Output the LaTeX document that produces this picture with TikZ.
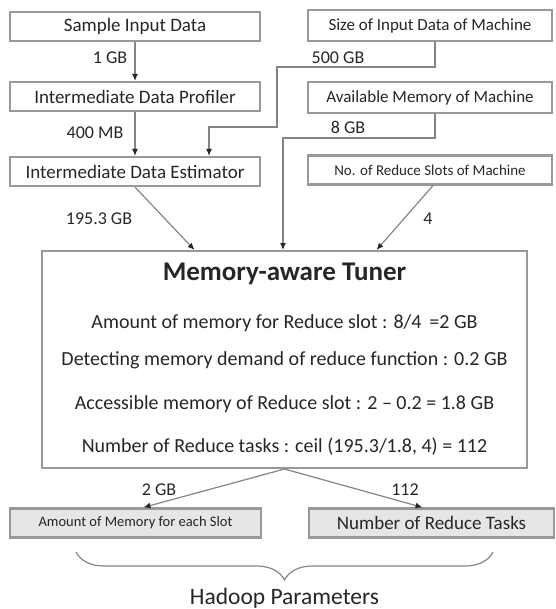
\documentclass[tikz,border=0pt]{standalone}
\usepackage{fontspec}
\setmainfont{Carlito}
\usepackage{tikz}
\usepackage{xcolor}
\usetikzlibrary{positioning,decorations.pathreplacing,arrows.meta}

\definecolor{boxline}{HTML}{999999}
\definecolor{conn}{HTML}{858585}
\definecolor{txt}{HTML}{262626}
\definecolor{paramfill}{HTML}{E6E6E6}

\begin{document}
\begin{tikzpicture}[x=1pt, y=-1pt, >={Latex[length=7pt,width=6pt,color=txt]}, color=txt]
    \tikzstyle{block}=[rectangle, draw=boxline, line width=2.2pt, align=center, minimum height=29pt, inner sep=0pt, font=\fontsize{19}{21}\selectfont]
    \tikzstyle{param}=[block, fill=paramfill]
    \tikzstyle{lbl}=[font=\fontsize{18}{20}\selectfont]
    \tikzstyle{row}=[font=\fontsize{20}{22}\selectfont]
    \tikzstyle{line}=[draw=conn, line width=1.2pt]
    \useasboundingbox (0,0) rectangle (555,609);

    % left column
    \node[block, minimum width=250pt] (sample) at (135,26.5) {Sample Input Data};
    \node[block, minimum width=250pt] (profiler) at (135,96.5) {Intermediate Data Profiler};
    \node[block, minimum width=250pt] (estimator) at (135,171.5) {Intermediate Data Estimator};

    % right column
    \node[block, minimum width=244pt, minimum height=31pt, font=\fontsize{17}{19}\selectfont] (sizein) at (430,25.5) {Size of Input Data of Machine};
    \node[block, minimum width=244pt, minimum height=31pt, font=\fontsize{17}{19}\selectfont] (availmem) at (430,97.5) {Available Memory of Machine};
    \node[block, minimum width=244pt, font=\fontsize{15}{17}\selectfont] (slots) at (430,170) {No. of Reduce Slots of Machine};

    % tuner
    \node[rectangle, draw=boxline, line width=2pt, minimum width=485pt, minimum height=217pt] (tuner) at (284.5,359.5) {};
    \node[font=\bfseries\fontsize{27}{29}\selectfont] (title) at (284.5,274) {Memory-aware Tuner};
    \node[row] (rowa) at (284.5,323) {Amount of memory for Reduce slot : 8/4 \,=2 GB};
    \node[row] (rowb) at (284.5,360) {Detecting memory demand of reduce function : 0.2 GB};
    \node[row] (rowc) at (284.5,404) {Accessible memory of Reduce slot : 2 -- 0.2 = 1.8 GB};
    \node[row] (rowd) at (284.5,447) {Number of Reduce tasks : ceil (195.3/1.8, 4) = 112};

    % hadoop parameters
    \node[param, minimum width=251pt, font=\fontsize{14.5}{16}\selectfont] (memslot) at (135.5,523) {Amount of Memory for each Slot};
    \node[param, minimum width=245pt, font=\fontsize{19}{21}\selectfont] (tasks) at (431.5,523) {Number of Reduce Tasks};

    % bends
    \coordinate (bendA) at (277,67);
    \coordinate (bendB) at (209,127);
    \coordinate (bendC) at (283,138);

    \draw[line, ->] (sample) -- (profiler);
    \draw[line, ->] (profiler) -- (estimator);
    \draw[line, ->] ([xshift=5pt]sizein.south) |- (bendA) |- (bendB) -- (bendB |- estimator.north);
    \draw[line, ->] ([xshift=5pt]availmem.south) |- (bendC) -- (bendC |- tuner.north);
    \draw[line, ->] (estimator.south) -- ([xshift=-90pt]tuner.north);
    \draw[line, ->] ([xshift=3pt]slots.south) -- ([xshift=92pt]tuner.north);
    \draw[line, ->] (tuner.south) -- ([xshift=8pt]memslot.north);
    \draw[line, ->] (tuner.south) -- ([xshift=-9pt]tasks.north);

    % labels
    \node[lbl] (l1) at (110,58) {1 GB};
    \node[lbl] (l2) at (95,133) {400 MB};
    \node[lbl] (l3) at (338,58) {500 GB};
    \node[lbl] (l4) at (348,127) {8 GB};
    \node[lbl] (l5) at (99,219) {195.3 GB};
    \node[lbl] (l6) at (428,219) {4};
    \node[lbl] (l7) at (159,490) {2 GB};
    \node[lbl] (l8) at (405,490) {112};

    \draw[line, decorate, decoration={brace, mirror, amplitude=28pt, aspect=0.5}] (76,552) -- (493,552);
    \node[font=\fontsize{23.5}{25}\selectfont] (hadoop) at (284.5,598) {Hadoop Parameters};
\end{tikzpicture}
\end{document}
